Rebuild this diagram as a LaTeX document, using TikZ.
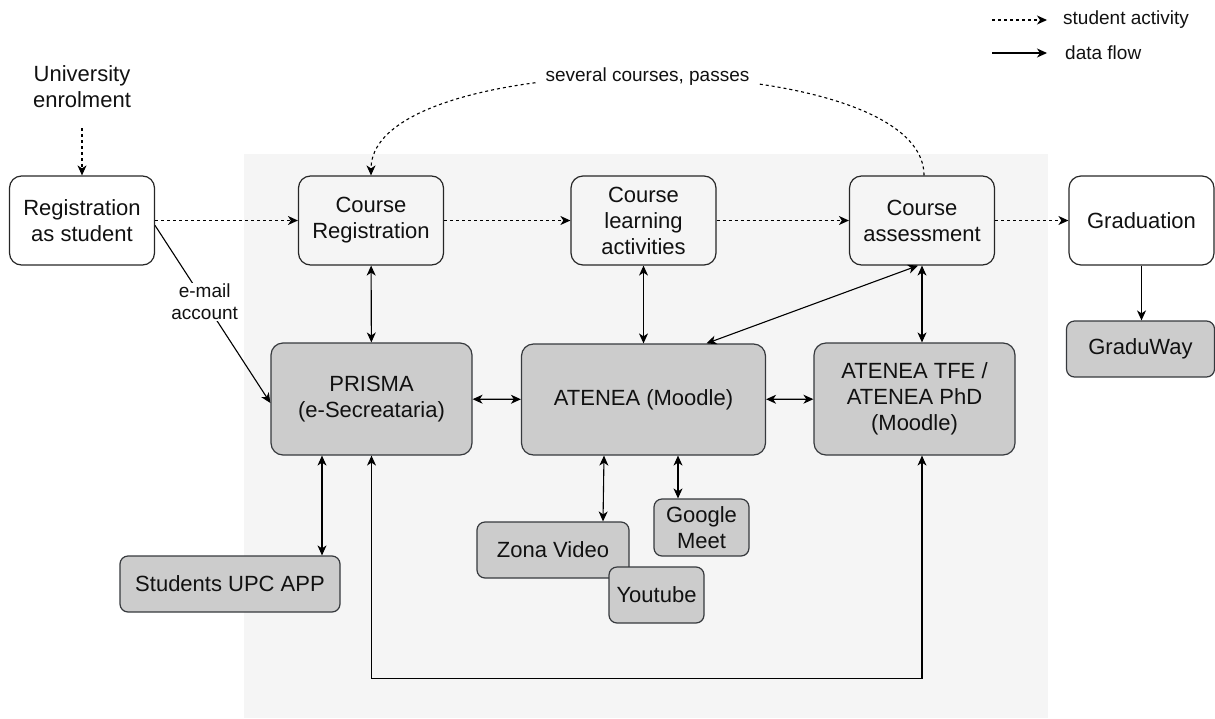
\documentclass[tikz,border=0pt]{standalone}
\usepackage{fontspec}
\setmainfont{Liberation Sans}
\usetikzlibrary{arrows.meta}
\definecolor{bggray}{HTML}{F5F5F5}
\definecolor{boxgray}{HTML}{CCCCCC}
\definecolor{boxline}{HTML}{36393D}
\definecolor{txt}{HTML}{111111}
\tikzset{
    >={Stealth[length=10pt,width=9pt,inset=3pt]},
    stage/.style={draw=black!85, rounded corners=12pt, line width=1.2pt,
        minimum width=145pt, minimum height=89pt, inner sep=0pt,
        align=center, text=txt, font=\fontsize{22}{26}\selectfont},
    tool/.style={stage, draw=boxline, fill=boxgray},
    small/.style={tool, rounded corners=8pt, minimum height=56pt},
    activity/.style={->, line width=1.1pt, dash pattern=on 3pt off 3pt},
    flow/.style={->, line width=1.1pt},
    flowboth/.style={<->, line width=1.1pt},
    note/.style={font=\fontsize{19}{22}\selectfont, text=txt, align=center, inner sep=1pt}
}
\begin{document}
\begin{tikzpicture}[x=1pt,y=-1pt]
    \useasboundingbox (0,0) rectangle (1215,718);
    \fill[bggray] (244,154) rectangle (1048,718);

    \node[note, font=\fontsize{22}{26}\selectfont] (uni) at (82,87) {University\\enrolment};
    \node[stage] (regst) at (82,220.5) {Registration\\as student};
    \node[stage] (creg) at (371,220.5) {Course\\Registration};
    \node[stage] (clearn) at (643.5,220.5) {Course\\learning\\activities};
    \node[stage] (cass) at (922,220.5) {Course\\assessment};
    \node[stage] (grad) at (1141.5,220.5) {Graduation};

    \node[tool, minimum width=201pt, minimum height=112pt] (prisma) at (371.5,399) {PRISMA\\(e-Secreataria)};
    \node[tool, minimum width=244pt, minimum height=111pt] (atenea) at (643.5,399.5) {ATENEA (Moodle)};
    \node[tool, minimum width=201pt, minimum height=112pt] (tfe) at (914.5,399) {ATENEA TFE /\\ATENEA PhD\\(Moodle)};

    \node[small, minimum width=148pt] (graduway) at (1140.5,349) {GraduWay};
    \node[small, minimum width=220pt] (upcapp) at (230,584) {Students UPC APP};
    \node[small, minimum width=152pt] (zona) at (553,550) {Zona Video};
    \node[small, minimum width=95pt, minimum height=57pt] (gmeet) at (701.5,527.5) {Google\\Meet};
    \node[small, minimum width=95pt] (youtube) at (656.5,595) {Youtube};

    \draw[activity, shorten <=19pt] (uni) -- (regst);
    \foreach \a/\b in {regst/creg, creg/clearn, clearn/cass, cass/grad}
        \draw[activity] (\a) -- (\b);
    \draw[activity] ([xshift=2pt]cass.north) .. controls (924,44) and (371,44)
        .. node[note, fill=white, inner sep=8pt] {several courses, passes} (creg.north);

    \draw[flowboth] (creg) -- (prisma);
    \draw[flowboth] (clearn) -- (atenea);
    \draw[flowboth] (cass.south) -- (cass.south |- tfe.north);
    \draw[flowboth] ([xshift=63pt]atenea.north) -- ([xshift=-4pt]cass.south);
    \draw[flowboth] (prisma) -- (atenea);
    \draw[flowboth] (atenea) -- (tfe);
    \draw[flowboth] ([xshift=-39.5pt]atenea.south) -- ([xshift=50pt]zona.north);
    \draw[flowboth] ([xshift=34.5pt]atenea.south) -- ([xshift=-23.5pt]gmeet.north);
    \draw[flowboth] ([xshift=-49.5pt]prisma.south) -- ([xshift=92pt]upcapp.north);
    \draw[flowboth] (prisma.south) -- ++(0,223) -| ([xshift=7.5pt]tfe.south);
    \draw[flow] ([yshift=-5pt]regst.east) -- node[note, pos=0.43, fill=white] {e-mail\\account} ([yshift=-4pt]prisma.west);
    \draw[flow] (grad.south) -- (grad.south |- graduway.north);

    \coordinate (actfrom) at (992,20);
    \coordinate (actto) at (1047,20);
    \coordinate (flowfrom) at (992,53);
    \coordinate (flowto) at (1047,53);
    \draw[activity] (actfrom) -- (actto);
    \draw[flow] (flowfrom) -- (flowto);
    \node[note, anchor=west, inner sep=0pt] (actlabel) at (1063,20) {student activity};
    \node[note, anchor=west, inner sep=0pt] (flowlabel) at (1065,53) {data flow};
\end{tikzpicture}
\end{document}
